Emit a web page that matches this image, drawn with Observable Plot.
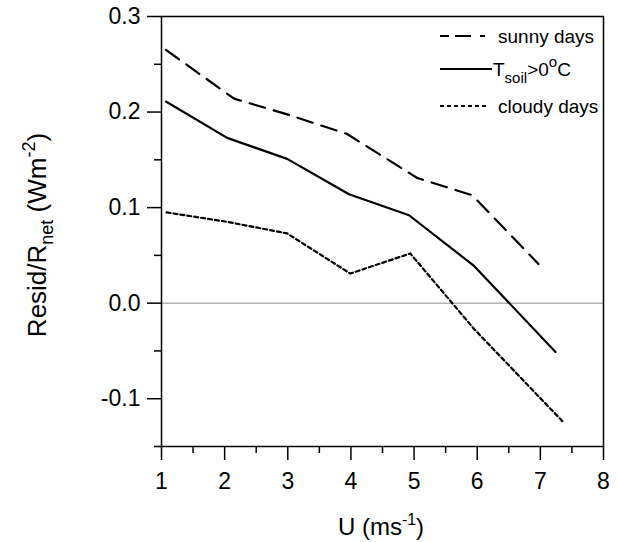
<!DOCTYPE html>
<html><head><meta charset="utf-8">
<script src="https://cdn.jsdelivr.net/npm/d3@7"></script>
<script src="https://cdn.jsdelivr.net/npm/@observablehq/plot@0.6"></script>
<style>body{margin:0;background:#fff} svg{display:block}</style>
</head><body><div id="chart"></div>
<script>
const sunnyU  = [1.07, 2.15, 3.02, 3.94, 5.05, 5.92, 6.97];
const sunnyR  = [0.265, 0.214, 0.197, 0.177, 0.131, 0.113, 0.041];
const soilU   = [1.07, 2.04, 2.99, 3.97, 4.92, 5.95, 7.24];
const soilR   = [0.211, 0.173, 0.151, 0.114, 0.092, 0.039, -0.051];
const cloudyU = [1.08, 2.05, 2.99, 3.99, 4.94, 5.95, 7.37];
const cloudyR = [0.095, 0.085, 0.073, 0.031, 0.052, -0.027, -0.125];
const xMajor = [1, 2, 3, 4, 5, 6, 7, 8];
const xMinor = [1.5, 2.5, 3.5, 4.5, 5.5, 6.5, 7.5];
const yMajor = [-0.1, 0.0, 0.1, 0.2, 0.3];
const yMinor = [-0.15, -0.05, 0.05, 0.15, 0.25];

const toRows = (us, rs) => us.map((u, i) => ({u, r: rs[i]}));
const sunny = toRows(sunnyU, sunnyR);
const soil = toRows(soilU, soilR);
const cloudy = toRows(cloudyU, cloudyR);

const FONT = "'Liberation Sans', Arial, sans-serif";

const plot = Plot.plot({
  width: 618, height: 542,
  marginLeft: 161, marginRight: 15, marginTop: 16, marginBottom: 96,
  style: {fontFamily: FONT, color: "black", background: "white"},
  x: {domain: [1, 8], label: null},
  y: {domain: [-0.15, 0.3], label: null},
  marks: [
    Plot.ruleY([0], {stroke: "#8a8a8a", strokeWidth: 1}),
    Plot.line(sunny, {x: "u", y: "r", stroke: "black", strokeWidth: 2.2, strokeDasharray: "16,9"}),
    Plot.line(soil, {x: "u", y: "r", stroke: "black", strokeWidth: 2.2}),
    Plot.line(cloudy, {x: "u", y: "r", stroke: "black", strokeWidth: 2.2, strokeDasharray: "4,3"}),
    Plot.frame({stroke: "black", strokeWidth: 1.5}),
    Plot.axisX(xMajor, {tickSize: 14, tickPadding: 12, fontSize: 23, label: null, strokeWidth: 1.5, tickFormat: d => String(d)}),
    Plot.axisX(xMinor, {tickSize: 7, label: null, strokeWidth: 1.5, tickFormat: () => ""}),
    Plot.axisY(yMajor, {tickSize: 14, tickPadding: 7, fontSize: 23, label: null, strokeWidth: 1.5, tickFormat: d => d.toFixed(1)}),
    Plot.axisY(yMinor, {tickSize: 7, label: null, strokeWidth: 1.5, tickFormat: () => ""})
  ]
});
document.getElementById("chart").appendChild(plot);

const svg = d3.select(plot);
// Axis titles
const yt = svg.append("text")
  .attr("transform", "translate(46,235) rotate(-90)")
  .attr("text-anchor", "middle")
  .attr("font-family", FONT).attr("font-size", 26).attr("fill", "black");
yt.append("tspan").text("Resid/R");
yt.append("tspan").attr("dy", 7).attr("font-size", 18).text("net");
yt.append("tspan").attr("dy", -7).text(" (Wm");
yt.append("tspan").attr("dy", -11).attr("font-size", 18).text("-2");
yt.append("tspan").attr("dy", 11).text(")");

const xt = svg.append("text")
  .attr("x", 381).attr("y", 535)
  .attr("text-anchor", "middle")
  .attr("font-family", FONT).attr("font-size", 24).attr("fill", "black");
xt.append("tspan").text("U (ms");
xt.append("tspan").attr("dy", -10).attr("font-size", 16).text("-1");
xt.append("tspan").attr("dy", 10).text(")");

// Legend
const lg = svg.append("g").attr("font-family", FONT).attr("font-size", 19)
  .attr("fill", "black").attr("text-anchor", "start");
const rows = [
  {y: 36, x2: 485, dash: "9,6,16", label: "sunny days"},
  {y: 69, x2: 492, dash: null, label: null},
  {y: 106, x2: 488, dash: "4,3", label: "cloudy days"}
];
rows.forEach(r => {
  const ln = lg.append("line").attr("x1", 440).attr("x2", r.x2).attr("y1", r.y).attr("y2", r.y)
    .attr("stroke", "black").attr("stroke-width", 2);
  if (r.dash) ln.attr("stroke-dasharray", r.dash);
  if (r.label) lg.append("text").attr("x", 498).attr("y", r.y + 7).attr("text-anchor", "start").text(r.label);
});
const tl = lg.append("text").attr("x", 493).attr("y", 76).attr("text-anchor", "start");
tl.append("tspan").text("T");
tl.append("tspan").attr("dy", 7).attr("font-size", 15).text("soil");
tl.append("tspan").attr("dy", -7).text(">0");
tl.append("tspan").attr("dy", -9).attr("font-size", 15).text("o");
tl.append("tspan").attr("dy", 9).text("C");
</script>
</body></html>
